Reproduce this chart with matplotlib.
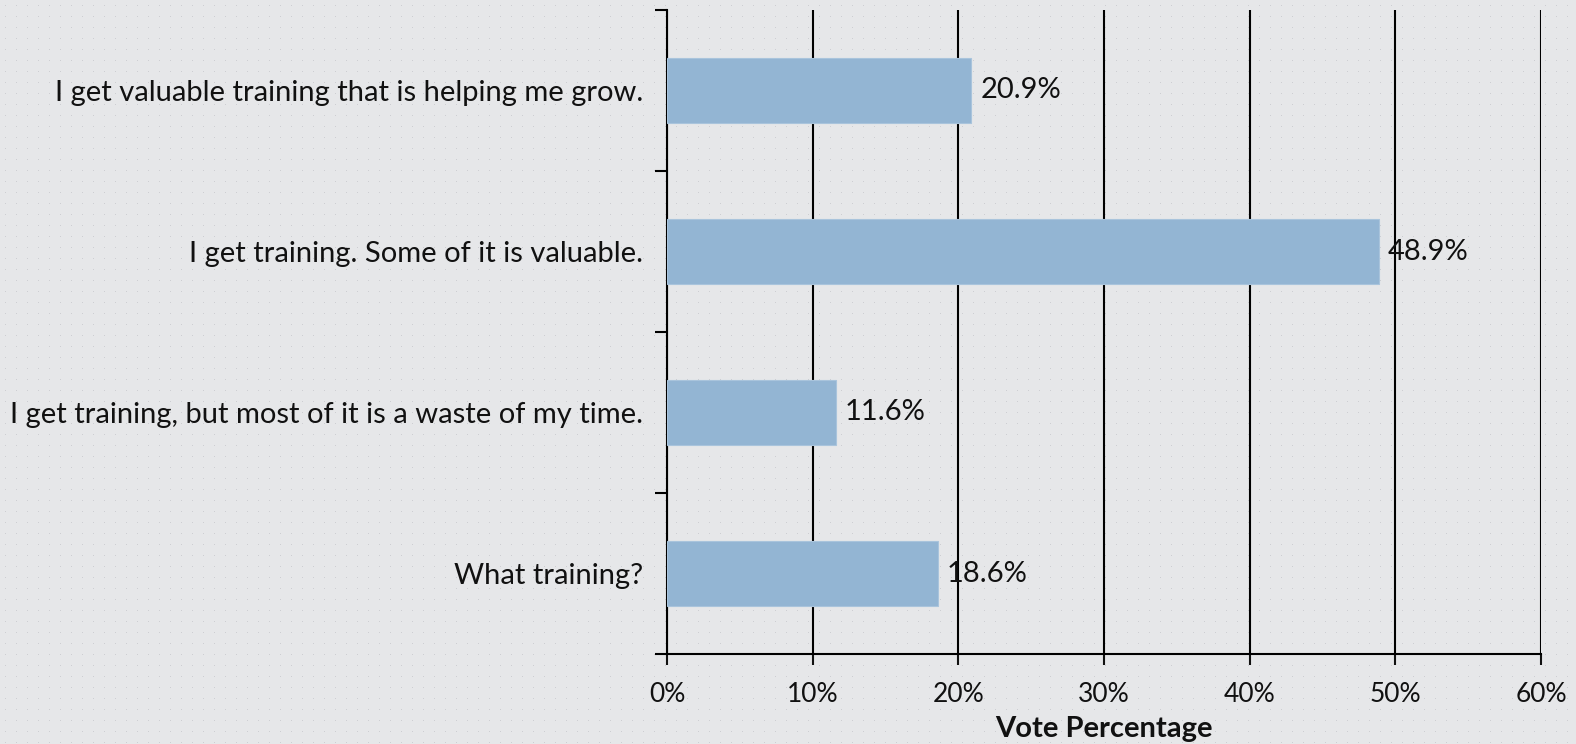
import numpy as np
import matplotlib.pyplot as plt
from matplotlib.colors import ListedColormap
from matplotlib.ticker import FixedLocator, PercentFormatter

plt.rcParams["font.family"] = ["Lato", "DejaVu Sans"]

categories = [
    "I get valuable training that is helping me grow.",
    "I get training. Some of it is valuable.",
    "I get training, but most of it is a waste of my time.",
    "What training?",
]
votes = [20.9, 48.9, 11.6, 18.6]
x_ticks = [0, 10, 20, 30, 40, 50, 60]

BG = "#e6e7e9"
BAR = "#93b5d3"
TXT = "#111111"

fig = plt.figure(figsize=(15.76, 7.44), dpi=100, facecolor=BG)

# dotted paper background
bg_ax = fig.add_axes([0, 0, 1, 1], zorder=-10)
pat = np.zeros((744, 1576))
pat[5::11, 5::11] = 1
bg_ax.imshow(pat, cmap=ListedColormap([BG, "#cdced2"]),
             aspect="auto", interpolation="nearest")
bg_ax.axis("off")

ax = fig.add_axes([667 / 1576, 90 / 744, 874 / 1576, 644 / 744])
ax.set_facecolor("none")

y = np.arange(len(categories))
ax.barh(y, votes, height=0.4, color=BAR, edgecolor="#a9c4dc", linewidth=0.8, zorder=3)

for yi, v in zip(y, votes):
    ax.text(v + 0.6, yi, f"{v}%", va="center", ha="left", fontsize=21, color=TXT, zorder=4)

ax.set_xlim(0, 60)
ax.set_ylim(len(categories) - 0.5, -0.5)
ax.xaxis.set_major_locator(FixedLocator(x_ticks))
ax.xaxis.set_major_formatter(PercentFormatter(decimals=0))
ax.set_yticks(y)
ax.set_yticklabels(categories)
ax.yaxis.set_minor_locator(FixedLocator(np.arange(-0.5, len(categories), 1.0)))

ax.grid(axis="x", color="black", linewidth=1.5, zorder=1)
ax.tick_params(axis="x", length=8, width=1.5, labelsize=19, pad=12, colors=TXT)
ax.tick_params(axis="y", which="major", length=0, labelsize=21, pad=17, colors=TXT)
ax.tick_params(axis="y", which="minor", length=9, width=1.5, color="black")

for side in ["top", "right"]:
    ax.spines[side].set_visible(False)
for side in ["left", "bottom"]:
    ax.spines[side].set_linewidth(1.5)
    ax.spines[side].set_color("black")

ax.set_xlabel("Vote Percentage", fontsize=21, fontweight="bold", labelpad=7, color=TXT)

plt.savefig("out.png", dpi=100, facecolor=BG)
plt.close(fig)
